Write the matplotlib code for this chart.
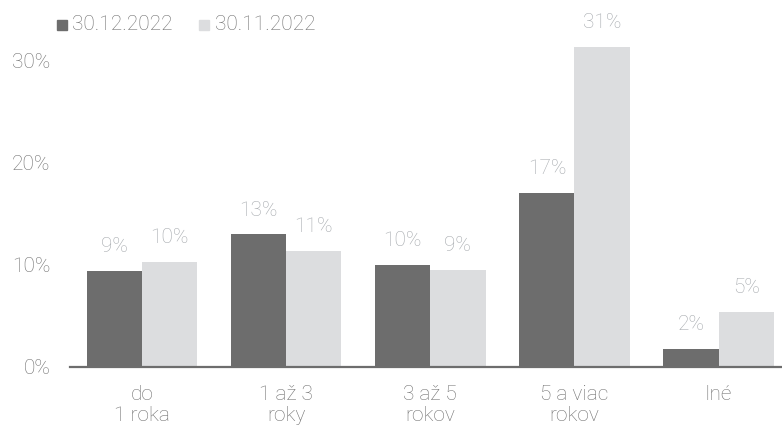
import numpy as np
import matplotlib
matplotlib.use('Agg')
import matplotlib.pyplot as plt
from matplotlib.patches import Rectangle

categories = ['do\n1 roka', '1 až 3\nroky', '3 až 5\nrokov', '5 a viac\nrokov', 'Iné']
dec_2022 = [9.4, 13.0, 10.0, 17.1, 1.8]
nov_2022 = [10.3, 11.4, 9.5, 31.4, 5.4]
series_names = ['30.12.2022', '30.11.2022']

plt.rcParams['font.family'] = ['Roboto', 'DejaVu Sans']
plt.rcParams['font.weight'] = 'light'

dark = '#6d6d6d'
light = '#dcdddf'
tick_col = '#707070'
lab_col = '#a5a9ad'
fs = 15

fig = plt.figure(figsize=(7.82, 4.28), dpi=100)
ax = fig.add_axes([70 / 782, (428 - 367) / 428, 712 / 782, 357 / 428])

x = np.arange(len(categories))
w = 0.383
b1 = ax.bar(x - w / 2, dec_2022, w, color=dark)
b2 = ax.bar(x + w / 2, nov_2022, w, color=light)

for bars, vals in ((b1, dec_2022), (b2, nov_2022)):
    for r, v in zip(bars, vals):
        ax.annotate('%d%%' % round(v - 0.01), (r.get_x() + r.get_width() / 2, v),
                    xytext=(0, 17.5), textcoords='offset points',
                    ha='center', va='center', fontsize=fs, color=lab_col)

ax.set_xlim(-0.5, 4.44)
ax.set_ylim(0, 35)
ax.set_yticks([0, 10, 20, 30])
ax.set_yticklabels(['0%', '10%', '20%', '30%'])
ax.set_xticks(x)
ax.set_xticklabels(categories, linespacing=1.15)
ax.tick_params(axis='both', length=0, labelsize=fs, labelcolor=tick_col)
ax.tick_params(axis='y', pad=14)
ax.tick_params(axis='x', pad=13)
for s in ('top', 'right', 'left'):
    ax.spines[s].set_visible(False)
ax.spines['bottom'].set_color(dark)
ax.spines['bottom'].set_linewidth(1.6)

# legend drawn by hand at the top left
for x0, col, name, tx in ((57, dark, series_names[0], 72), (199, light, series_names[1], 215)):
    fig.patches.append(Rectangle((x0 / 782, (428 - 30) / 428), 10 / 782, 10 / 428,
                                 color=col, transform=fig.transFigure))
    fig.text(tx / 782, (428 - 25) / 428, name, fontsize=fs, color=tick_col,
             va='center', ha='left')

fig.savefig('out.png', dpi=100)
